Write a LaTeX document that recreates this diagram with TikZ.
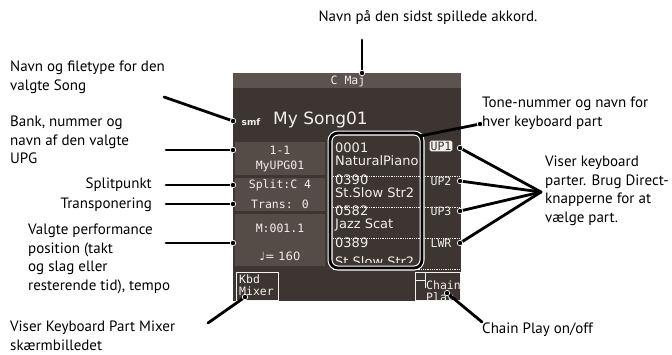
\documentclass[tikz,border=0pt]{standalone}
\usepackage{fontspec}
\setmainfont{PT Sans}
\newfontfamily\lcdmono{DejaVu Sans Mono}
\newfontfamily\lcdsans{DejaVu Sans}
\usetikzlibrary{positioning}
\definecolor{skjerm}{HTML}{3D3532}
\definecolor{bjelke}{HTML}{5C534E}
\definecolor{felt}{HTML}{554C48}
\definecolor{lcdtekst}{HTML}{F1EEEC}
\tikzset{
  pil/.style={line width=2.8pt, line cap=round},
  prikk/.style={circle, fill=black, draw=white, line width=0.7pt, inner sep=0pt, minimum size=5.5pt},
  merk/.style={font=\fontsize{15}{18.5}\selectfont, align=left, inner sep=0pt},
  lcd/.style={text=lcdtekst, font=\lcdmono\fontsize{11.5}{12}\selectfont, inner sep=0pt},
  tone/.style={text=lcdtekst, font=\lcdsans\fontsize{13}{13}\selectfont, inner sep=0pt, anchor=west},
  prikklinje/.style={lcdtekst, densely dotted, line width=0.8pt},
}
\begin{document}
\begin{tikzpicture}[x=1pt,y=-1pt]
\useasboundingbox[fill=white] (0,0) rectangle (672,354);

% Skjerm
\fill[skjerm] (233,73) rectangle (461,301);
\fill[bjelke] (233,73) rectangle (461,88);
\node[lcd] (akkord) at (348,81) {C Maj};

% Songnavn
\node[text=lcdtekst, font=\lcdsans\bfseries\fontsize{9}{9}\selectfont, inner sep=0pt] (smf) at (251,122) {smf};
\node[text=lcdtekst, font=\lcdsans\fontsize{17}{17}\selectfont, inner sep=0pt, anchor=west] (sang) at (273,120) {My Song01};

% Venstre felt
\fill[felt] (235,142) rectangle (325,175);
\fill[felt] (235,178) rectangle (325,211);
\fill[felt] (235,214) rectangle (325,266);
\node[lcd, align=center] (upg) at (280,159) {1-1\\[3pt]MyUPG01};
\node[lcd] (split) at (280,185) {Split:C 4};
\node[lcd] (trans) at (280,204) {Trans: 0};
\node[lcd] (takt) at (280,228) {M:001.1};
\node[lcd] (tempo) at (280,256) {\lcdsans\char"2669= 160};

% Tone-felt
\begin{scope}
\clip (332,135) rectangle (418,262);
\node[tone] (t1a) at (335,148) {0001};
\node[tone] (t1b) at (335,161) {NaturalPiano};
\node[tone] (t2a) at (335,180) {0390};
\node[tone] (t2b) at (335,193) {St.Slow Str2};
\node[tone] (t3a) at (335,211) {0582};
\node[tone] (t3b) at (335,225) {Jazz Scat};
\node[tone] (t4a) at (335,243) {0389};
\node[tone] (t4b) at (335,262) {St.Slow Str2};
\end{scope}
\foreach \y in {176,207,238,269}
  \draw[prikklinje] (333,\y) -- (460,\y);
\draw[white, line width=5pt, rounded corners=8pt] (330,133) rectangle (422,268);
\draw[black, line width=2.8pt, rounded corners=8pt] (330,133) rectangle (422,268);
\coordinate (tonehjorne) at (420,136);

% Keyboard parter
\node[fill=lcdtekst, rounded corners=1.5pt, text=skjerm, font=\lcdmono\fontsize{11.5}{12}\selectfont, inner sep=1pt] (up1) at (441,146) {UP1};
\node[lcd] (up2) at (441,181) {UP2};
\node[lcd] (up3) at (441,211) {UP3};
\node[lcd] (lwr) at (441,243) {LWR};

% Knapper nederst
\draw[lcdtekst!80, line width=0.6pt] (236,272) rectangle (278,300);
\node[lcd, align=left, anchor=north west] (kbd) at (239,275) {Kbd\\Mixer};
\draw[lcdtekst!80, line width=0.6pt] (415,272) rectangle (460,300);
\draw[lcdtekst!80, line width=0.6pt] (425,272) -- (425,288) (415,280) -- (425,280);
\begin{scope}
\clip (415,272) rectangle (460,300);
\node[lcd, align=left, anchor=north west] (chain) at (426,281) {Chain\\Play};
\end{scope}

% Tekster
\node[merk] (tAkkord) at (428,17) {Navn på den sidst spillede akkord.};
\node[merk, anchor=north west] (tSong) at (10,61) {Navn og filetype for den\\valgte Song};
\node[merk, anchor=north west] (tBank) at (10,116) {Bank, nummer og\\navn af den valgte\\UPG};
\node[merk, anchor=east] (tSplit) at (152,185) {Splitpunkt};
\node[merk, anchor=east] (tTrans) at (152,205) {Transponering};
\node[merk, anchor=north west] (tValgt) at (28,224) {Valgte performance\\position (takt\\og slag eller\\resterende tid), tempo};
\node[merk, anchor=north west] (tMixer) at (10,321) {Viser Keyboard Part Mixer\\skærmbilledet};
\node[merk, anchor=north west] (tTone) at (482,97) {Tone-nummer og navn for\\hver keyboard part};
\node[merk, anchor=north west] (tParter) at (545,156) {Viser keyboard\\parter. Brug Direct-\\knapperne for at\\vælge part.};
\node[merk, anchor=west] (tChain) at (482,330) {Chain Play on/off};

% Pilendepunkter
\coordinate (pAkkord) at (362,73);
\coordinate (pSong) at (233,121);
\coordinate (pBank) at (233,150);
\coordinate (pSplit) at (233,185);
\coordinate (pTrans) at (233,204);
\coordinate (pValgt) at (233,243);
\coordinate (pMixer) at (245,297);
\coordinate (pTone) at (480,124);
\coordinate (pUp1) at (460,148);
\coordinate (pUp2) at (460,181);
\coordinate (pUp3) at (460,211);
\coordinate (pLwr) at (460,243);
\coordinate (pChain) at (447,293);
\coordinate (samle) at (541,192);

% Linjer
\draw[pil] (362,40) -- (pAkkord);
\draw[pil] (164,97) -- (pSong);
\draw[pil] (166,150) -- (pBank);
\draw[pil] (166,185) -- (pSplit);
\draw[pil] (166,204) -- (pTrans);
\draw[pil] (166,243) -- (pValgt);
\draw[pil] (208,323) -- (pMixer);
\draw[pil] (tonehjorne) -- (pTone);
\foreach \p in {pUp1,pUp2,pUp3,pLwr}
  \draw[pil] (samle) -- (\p);
\draw[pil] (pChain) -- (482,322);
\foreach \p in {pAkkord,pSong,pBank,pSplit,pTrans,pValgt,pMixer,pTone,pUp1,pUp2,pUp3,pLwr,pChain}
  \node[prikk] at (\p) {};

\end{tikzpicture}
\end{document}
